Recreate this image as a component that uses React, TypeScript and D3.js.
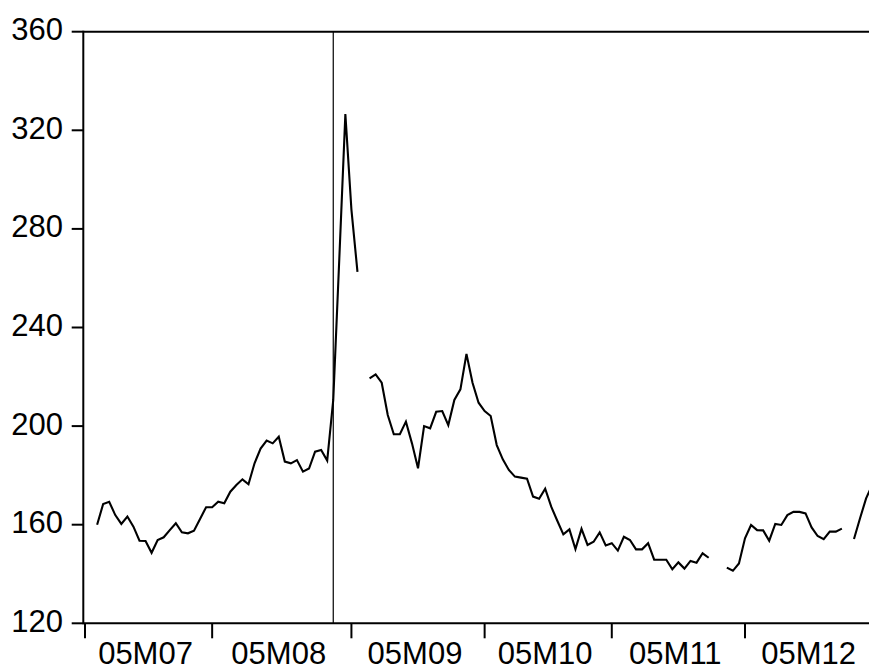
import React from "react";
import * as d3 from "d3";

// Business-day observations, 2005-07-01 .. 2005-12-30 (null = market holiday / missing)
const julValues: (number | null)[] = [null, null, 160.0, 168.4, 169.3, 163.9, 160.3, 163.3, 159.2, 153.5, 153.4, 148.6, 153.8, 154.9, 157.8, 160.6, 156.9, 156.5, 157.6, 162.3, 167.1];
const augValues: (number | null)[] = [167.1, 169.3, 168.7, 173.4, 176.1, 178.4, 176.4, 184.9, 190.9, 194.1, 193.0, 195.7, 185.6, 184.9, 186.2, 181.5, 182.8, 189.6, 190.3, 186.0, 210.6, 268.0, 326.6];
const sepValues: (number | null)[] = [287.8, 262.6, null, 219.4, 221.0, 217.6, 204.5, 196.7, 196.7, 201.8, 193.0, 182.9, 200.0, 199.1, 205.8, 206.1, 200.4, 210.6, 214.9, 229.3, 217.6, 209.5];
const octValues: (number | null)[] = [206.1, 204.1, 192.3, 186.5, 182.2, 179.5, 179.1, 178.7, 171.4, 170.5, 174.6, 167.3, 161.6, 156.1, 158.1, 150.1, 158.3, 151.8, 153.1, 156.9, 151.6];
const novValues: (number | null)[] = [152.5, 149.5, 155.1, 153.8, 150.0, 150.0, 152.5, 145.8, 145.8, 145.8, 141.9, 144.7, 142.2, 145.3, 144.6, 148.4, 146.6, null, null, 142.6, 141.3, 144.3];
const decValues: (number | null)[] = [154.5, 159.9, 157.8, 157.7, 153.5, 160.3, 159.9, 163.9, 165.2, 165.2, 164.6, 158.9, 155.4, 154.1, 157.2, 157.2, 158.4, null, 154.2, 162.6, 170.7, 176.0];

const monthLabels = ["05M07", "05M08", "05M09", "05M10", "05M11", "05M12"];
const yTicks = [120, 160, 200, 240, 280, 320, 360];
const markerIndex = 41; // 2005-08-29

const W = 869;
const H = 671;

export default function App() {
  const months = [julValues, augValues, sepValues, octValues, novValues, decValues];
  const series: (number | null)[] = ([] as (number | null)[]).concat(...months);
  const starts: number[] = [];
  let acc = 0;
  months.forEach((m) => {
    starts.push(acc);
    acc += m.length;
  });
  const n = series.length;

  const step = 6.055;
  const x = d3.scaleLinear().domain([0, n - 1]).range([85, 85 + (n - 1) * step]);
  const y = d3.scaleLinear().domain([120, 360]).range([623.3, 31.7]);

  const pts = series.map((v, i) => ({ i, v }));
  const line = d3
    .line<{ i: number; v: number | null }>()
    .defined((d) => d.v !== null)
    .x((d) => x(d.i))
    .y((d) => y(d.v as number));

  const left = 83.3;
  const right = W + 5;
  const top = y(360);
  const bottom = y(120);
  const font = "'Liberation Sans', Arial, sans-serif";

  return (
    <div style={{ position: "absolute", left: 0, top: 0, width: W, height: H, background: "#fff" }}>
      <svg width={W} height={H} style={{ display: "block" }}>
        <rect x={0} y={0} width={W} height={H} fill="#fff" />
        {/* event marker */}
        <line x1={x(markerIndex)} x2={x(markerIndex)} y1={top} y2={bottom} stroke="#000" strokeWidth={1.2} />
        {/* data line */}
        <path d={line(pts) || ""} fill="none" stroke="#000" strokeWidth={2.1} strokeLinejoin="miter" />
        {/* frame */}
        <line x1={left} x2={right} y1={top} y2={top} stroke="#000" strokeWidth={2} />
        <line x1={left} x2={left} y1={top - 1} y2={bottom + 1} stroke="#000" strokeWidth={2} />
        <line x1={left} x2={right} y1={bottom} y2={bottom} stroke="#000" strokeWidth={2} />
        {/* y ticks */}
        {yTicks.map((t) => (
          <g key={t}>
            <line x1={71.7} x2={left} y1={y(t)} y2={y(t)} stroke="#000" strokeWidth={2} />
            <text x={63} y={y(t) + 8.5} textAnchor="end" fontFamily={font} fontSize={31} fill="#000">
              {t}
            </text>
          </g>
        ))}
        {/* x ticks */}
        {starts.map((s, k) => (
          <g key={k}>
            <line x1={x(s)} x2={x(s)} y1={bottom} y2={638.3} stroke="#000" strokeWidth={2} />
            <text
              x={x((s + s + months[k].length - 1) / 2)}
              y={664}
              textAnchor="middle"
              fontFamily={font}
              fontSize={31}
              fill="#000"
            >
              {monthLabels[k]}
            </text>
          </g>
        ))}
      </svg>
    </div>
  );
}
